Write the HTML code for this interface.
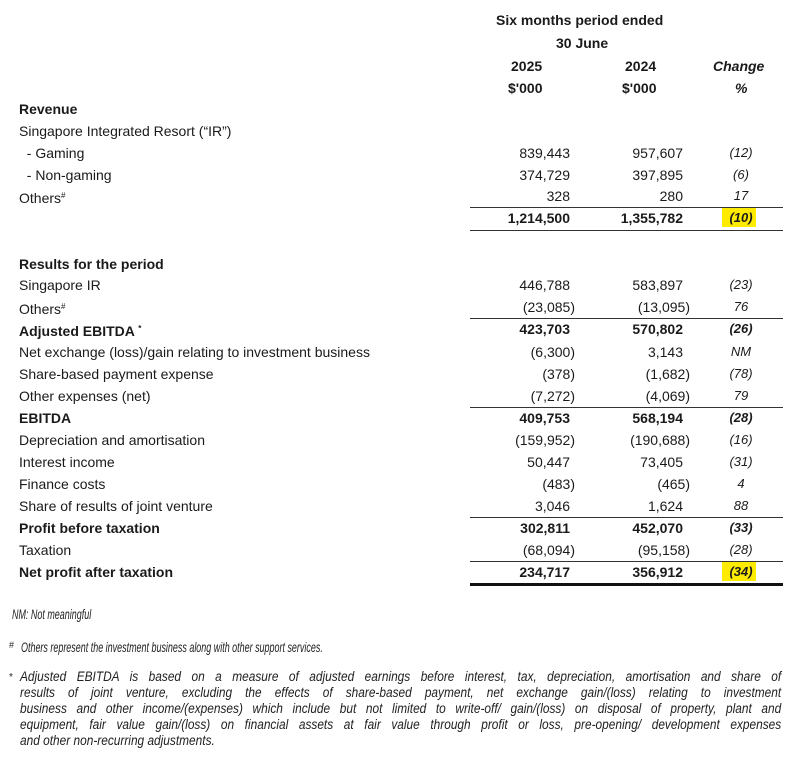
<!DOCTYPE html>
<html><head><meta charset="utf-8"><style>
body{margin:0;width:800px;height:762px;background:#fff;position:relative;overflow:hidden;font-family:"Liberation Sans",Arial,sans-serif;color:#1a1a1a}
.t{position:absolute;font-size:14px;line-height:16px;white-space:nowrap}
.b{font-weight:bold}
.l{left:19px}
.a{right:230px}
.c{right:117px}
.p{width:60px;left:711px;text-align:center;font-style:italic;font-size:13px}
.ln{position:absolute;left:470px;width:313px;height:1px;background:#333}
.hl{position:absolute;background:#ffeb00;left:722px;width:34px;height:19px}
.f{position:absolute;font-style:italic;font-size:14px;line-height:16px;color:#222;transform-origin:0 0;transform:scaleX(0.64);white-space:nowrap}
.pl{position:absolute;left:20px;width:865px;font-style:italic;font-size:13.5px;line-height:15px;color:#222;text-align:justify;text-align-last:justify;white-space:nowrap;transform-origin:0 0;transform:scaleX(0.88)}
sup{font-size:8px;vertical-align:5px}
</style></head><body>
<div class="t b" style="left:496px;top:12px">Six months period ended</div>
<div class="t b" style="left:556px;top:35px">30 June</div>
<div class="t b" style="left:511px;top:58px">2025</div>
<div class="t b" style="left:625px;top:58px">2024</div>
<div class="t b" style="left:713px;top:58px;font-style:italic">Change</div>
<div class="t b" style="left:508px;top:80px">$'000</div>
<div class="t b" style="left:622px;top:80px">$'000</div>
<div class="t b" style="left:735px;top:80px;font-style:italic">%</div>

<div class="hl" style="top:208px"></div>
<div class="hl" style="top:562px"></div>

<div class="t b l" style="top:101px">Revenue</div>
<div class="t l" style="top:123px">Singapore Integrated Resort (“IR”)</div>
<div class="t l" style="top:145px">&nbsp;&nbsp;- Gaming</div><div class="t a" style="top:145px">839,443</div><div class="t c" style="top:145px">957,607</div><div class="t p" style="top:145px">(12)</div>
<div class="t l" style="top:167px">&nbsp;&nbsp;- Non-gaming</div><div class="t a" style="top:167px">374,729</div><div class="t c" style="top:167px">397,895</div><div class="t p" style="top:167px">(6)</div>
<div class="t l" style="top:188px">Others<sup>#</sup></div><div class="t a" style="top:188px">328</div><div class="t c" style="top:188px">280</div><div class="t p" style="top:188px">17</div>
<div class="ln" style="top:207px"></div>
<div class="t b a" style="top:210px">1,214,500</div><div class="t b c" style="top:210px">1,355,782</div><div class="t p b" style="top:210px">(10)</div>
<div class="ln" style="top:230px"></div>

<div class="t b l" style="top:256px">Results for the period</div>
<div class="t l" style="top:277px">Singapore IR</div><div class="t a" style="top:277px">446,788</div><div class="t c" style="top:277px">583,897</div><div class="t p" style="top:277px">(23)</div>
<div class="t l" style="top:299px">Others<sup>#</sup></div><div class="t a" style="top:299px;right:225px">(23,085)</div><div class="t c" style="top:299px;right:110px">(13,095)</div><div class="t p" style="top:299px">76</div>
<div class="ln" style="top:318px"></div>
<div class="t b l" style="top:321px">Adjusted EBITDA <sup>*</sup></div><div class="t b a" style="top:321px">423,703</div><div class="t b c" style="top:321px">570,802</div><div class="t p b" style="top:321px">(26)</div>
<div class="t l" style="top:344px">Net exchange (loss)/gain relating to investment business</div><div class="t a" style="top:344px;right:225px">(6,300)</div><div class="t c" style="top:344px">3,143</div><div class="t p" style="top:344px">NM</div>
<div class="t l" style="top:366px">Share-based payment expense</div><div class="t a" style="top:366px;right:225px">(378)</div><div class="t c" style="top:366px;right:110px">(1,682)</div><div class="t p" style="top:366px">(78)</div>
<div class="t l" style="top:388px">Other expenses (net)</div><div class="t a" style="top:388px;right:225px">(7,272)</div><div class="t c" style="top:388px;right:110px">(4,069)</div><div class="t p" style="top:388px">79</div>
<div class="ln" style="top:407px"></div>
<div class="t b l" style="top:410px">EBITDA</div><div class="t b a" style="top:410px">409,753</div><div class="t b c" style="top:410px">568,194</div><div class="t p b" style="top:410px">(28)</div>
<div class="t l" style="top:432px">Depreciation and amortisation</div><div class="t a" style="top:432px;right:225px">(159,952)</div><div class="t c" style="top:432px;right:110px">(190,688)</div><div class="t p" style="top:432px">(16)</div>
<div class="t l" style="top:454px">Interest income</div><div class="t a" style="top:454px">50,447</div><div class="t c" style="top:454px">73,405</div><div class="t p" style="top:454px">(31)</div>
<div class="t l" style="top:476px">Finance costs</div><div class="t a" style="top:476px;right:225px">(483)</div><div class="t c" style="top:476px;right:110px">(465)</div><div class="t p" style="top:476px">4</div>
<div class="t l" style="top:498px">Share of results of joint venture</div><div class="t a" style="top:498px">3,046</div><div class="t c" style="top:498px">1,624</div><div class="t p" style="top:498px">88</div>
<div class="ln" style="top:517px"></div>
<div class="t b l" style="top:520px">Profit before taxation</div><div class="t b a" style="top:520px">302,811</div><div class="t b c" style="top:520px">452,070</div><div class="t p b" style="top:520px">(33)</div>
<div class="t l" style="top:542px">Taxation</div><div class="t a" style="top:542px;right:225px">(68,094)</div><div class="t c" style="top:542px;right:110px">(95,158)</div><div class="t p" style="top:542px">(28)</div>
<div class="ln" style="top:561px"></div>
<div class="t b l" style="top:564px">Net profit after taxation</div><div class="t b a" style="top:564px">234,717</div><div class="t b c" style="top:564px">356,912</div><div class="t p b" style="top:564px">(34)</div>
<div class="ln" style="top:583px;height:3px;background:#111"></div>

<div class="f" style="left:12px;top:606px">NM: Not meaningful</div>
<div class="f" style="left:9px;top:637px;font-style:normal;font-size:9px;transform:none">#</div>
<div class="f" style="left:21px;top:639px">Others represent the investment business along with other support services.</div>
<div class="f" style="left:9px;top:670px;font-style:normal;font-size:10px;transform:none">*</div>
<div class="pl" style="top:669px">Adjusted EBITDA is based on a measure of adjusted earnings before interest, tax, depreciation, amortisation and share of</div>
<div class="pl" style="top:685px">results of joint venture, excluding the effects of share-based payment, net exchange gain/(loss) relating to investment</div>
<div class="pl" style="top:701px">business and other income/(expenses) which include but not limited to write-off/ gain/(loss) on disposal of property, plant and</div>
<div class="pl" style="top:717px">equipment, fair value gain/(loss) on financial assets at fair value through profit or loss, pre-opening/ development expenses</div>
<div class="pl" style="top:733px;text-align-last:left">and other non-recurring adjustments.</div>
</body></html>
